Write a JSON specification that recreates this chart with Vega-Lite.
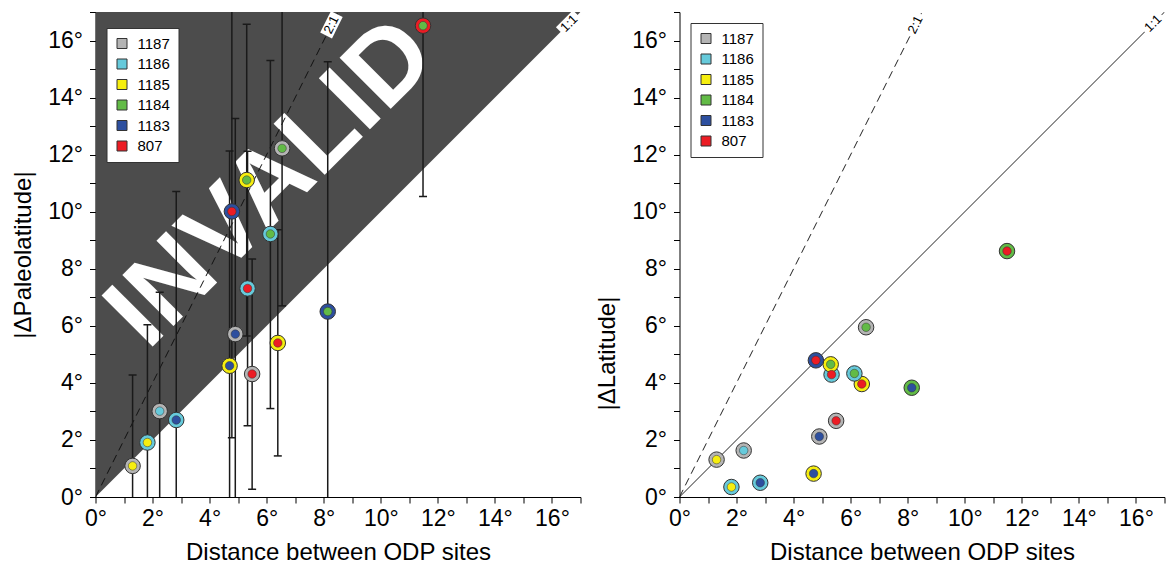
{
"$schema": "https://vega.github.io/schema/vega-lite/v6.json",
"background": "white",
"padding": {"left": 11.5, "top": 0, "right": 0, "bottom": 0},
"bounds": "flush",
"spacing": 99,
"config": {
  "font": "Liberation Sans",
  "view": {"stroke": null},
  "axis": {"grid": false, "domainColor": "#000", "domainWidth": 1, "tickColor": "#000", "tickSize": 6, "tickWidth": 1, "labelFontSize": 23, "labelColor": "#000", "titleFontSize": 24, "titleFontWeight": "normal", "titleColor": "#000", "labelFont": "Liberation Sans", "titleFont": "Liberation Sans", "labelOverlap": false, "labelBound": false, "labelFlush": false},
  "axisX": {"labelPadding": 4, "titlePadding": 10},
  "axisY": {"labelPadding": 7, "titlePadding": 12},
  "legend": {"orient": "none", "symbolType": "square", "symbolSize": 100, "symbolStrokeColor": "#333", "symbolStrokeWidth": 1, "symbolOpacity": 1, "labelFontSize": 15, "labelColor": "#000", "labelFont": "Liberation Sans", "fillColor": "#fff", "strokeColor": "#333", "padding": 8, "rowPadding": 4.5, "labelOffset": 8}
},
"datasets": {
  "pairs": [
    {"o": "1187", "i": "1185", "oR": "1187", "iR": "1185", "d": 1.30, "p": 1.09, "lo": -2.10, "hi": 4.28, "l": 1.31},
    {"o": "1186", "i": "1185", "oR": "1186", "iR": "1185", "d": 1.82, "p": 1.91, "lo": -2.22, "hi": 6.04, "l": 0.35},
    {"o": "1187", "i": "1186", "oR": "1187", "iR": "1186", "d": 2.25, "p": 3.01, "lo": -1.16, "hi": 7.18, "l": 1.63},
    {"o": "1186", "i": "1183", "oR": "1186", "iR": "1183", "d": 2.83, "p": 2.70, "lo": -5.31, "hi": 10.71, "l": 0.50},
    {"o": "1185", "i": "1183", "oR": "1185", "iR": "1183", "d": 4.70, "p": 4.60, "lo": -2.93, "hi": 12.13, "l": 0.82},
    {"o": "1187", "i": "1183", "oR": "1187", "iR": "1183", "d": 4.90, "p": 5.71, "lo": -1.85, "hi": 13.27, "l": 2.12},
    {"o": "1186", "i": "807", "oR": "1186", "iR": "807", "d": 5.33, "p": 7.31, "lo": 2.50, "hi": 12.12, "l": 4.29},
    {"o": "1187", "i": "807", "oR": "1187", "iR": "807", "d": 5.49, "p": 4.31, "lo": 0.27, "hi": 8.34, "l": 2.67},
    {"o": "1185", "i": "807", "oR": "1185", "iR": "807", "d": 6.39, "p": 5.40, "lo": 1.44, "hi": 9.37, "l": 3.96},
    {"o": "1183", "i": "1184", "oR": "1184", "iR": "1183", "d": 8.14, "p": 6.50, "lo": -2.26, "hi": 15.26, "l": 3.83},
    {"o": "807", "i": "1184", "oR": "1184", "iR": "807", "d": 11.48, "p": 16.52, "lo": 10.53, "hi": 22.51, "l": 8.62},
    {"o": "1187", "i": "1184", "oR": "1187", "iR": "1184", "d": 6.54, "p": 12.22, "lo": 6.70, "hi": 17.74, "l": 5.95},
    {"o": "1185", "i": "1184", "oR": "1185", "iR": "1184", "d": 5.30, "p": 11.11, "lo": 5.64, "hi": 16.57, "l": 4.65},
    {"o": "1183", "i": "807", "oR": "1183", "iR": "807", "d": 4.78, "p": 10.01, "lo": 2.08, "hi": 17.94, "l": 4.79},
    {"o": "1186", "i": "1184", "oR": "1186", "iR": "1184", "d": 6.13, "p": 9.22, "lo": 3.10, "hi": 15.30, "l": 4.33}
  ]
},
"hconcat": [
  {
    "width": 485, "height": 485,
    "encoding": {
      "x": {"field": "d", "type": "quantitative", "scale": {"domain": [0, 17], "nice": false, "zero": false}, "axis": {"values": [0,1,2,3,4,5,6,7,8,9,10,11,12,13,14,15,16,17], "labelExpr": "datum.value % 2 === 0 ? datum.value + '°' : ''"}, "title": "Distance between ODP sites"},
      "y": {"field": "p", "type": "quantitative", "scale": {"domain": [0, 17], "nice": false, "zero": false}, "axis": {"values": [0,1,2,3,4,5,6,7,8,9,10,11,12,13,14,15,16,17], "labelExpr": "datum.value % 2 === 0 ? datum.value + '°' : ''"}, "title": "|ΔPaleolatitude|"}
    },
    "layer": [
      {"data": {"values": [{"d": 0, "p": 0}, {"d": 17, "p": 17}]}, "mark": {"type": "area", "orient": "vertical", "color": "#4c4c4c", "opacity": 1, "clip": true}, "encoding": {"y2": {"datum": 17}}},
      {"data": {"values": [{"d": 6.15, "p": 11.0}]}, "mark": {"type": "text", "text": "INVALID", "font": "Liberation Sans", "fontWeight": "bold", "fontSize": 105, "angle": 315, "align": "center", "baseline": "middle", "color": "#ffffff"}},
      {"data": {"values": [{"d": 0, "p": 0}, {"d": 8.5, "p": 17}]}, "mark": {"type": "line", "color": "#111", "strokeWidth": 1, "strokeDash": [8, 5], "clip": true}},
      {"data": {"values": [{"d": 16.6, "p": 16.6}]}, "mark": {"type": "point", "shape": "M-1,-0.55L1,-0.55L1,0.55L-1,0.55Z", "size": 576, "angle": 315, "filled": true, "color": "#ffffff", "opacity": 1, "strokeWidth": 0, "clip": true}},
      {"data": {"values": [{"d": 16.6, "p": 16.6}]}, "mark": {"type": "text", "text": "1:1", "fontSize": 13, "angle": 315, "align": "center", "baseline": "middle", "color": "#000"}},
      {"data": {"name": "pairs"}, "mark": {"type": "rule", "color": "#1a1a1a", "strokeWidth": 1.5, "clip": true}, "encoding": {"y": {"field": "lo", "type": "quantitative", "scale": {"domain": [0, 17], "nice": false, "zero": false}, "axis": {"values": [0,1,2,3,4,5,6,7,8,9,10,11,12,13,14,15,16,17], "labelExpr": "datum.value % 2 === 0 ? datum.value + '°' : ''"}, "title": "|ΔPaleolatitude|"}, "y2": {"field": "hi"}}},
      {"data": {"name": "pairs"}, "mark": {"type": "tick", "orient": "horizontal", "size": 8, "thickness": 1.5, "color": "#1a1a1a", "opacity": 1, "clip": true}, "encoding": {"y": {"field": "lo", "type": "quantitative", "scale": {"domain": [0, 17], "nice": false, "zero": false}, "axis": {"values": [0,1,2,3,4,5,6,7,8,9,10,11,12,13,14,15,16,17], "labelExpr": "datum.value % 2 === 0 ? datum.value + '°' : ''"}, "title": "|ΔPaleolatitude|"}}},
      {"data": {"name": "pairs"}, "mark": {"type": "tick", "orient": "horizontal", "size": 8, "thickness": 1.5, "color": "#1a1a1a", "opacity": 1, "clip": true}, "encoding": {"y": {"field": "hi", "type": "quantitative", "scale": {"domain": [0, 17], "nice": false, "zero": false}, "axis": {"values": [0,1,2,3,4,5,6,7,8,9,10,11,12,13,14,15,16,17], "labelExpr": "datum.value % 2 === 0 ? datum.value + '°' : ''"}, "title": "|ΔPaleolatitude|"}}},
      {"data": {"name": "pairs"}, "mark": {"type": "point", "filled": true, "size": 240, "stroke": "#333", "strokeWidth": 1, "opacity": 1}, "encoding": {"fill": {"field": "o", "type": "nominal", "title": null, "scale": {"domain": ["1187", "1186", "1185", "1184", "1183", "807"], "range": ["#b4b4b4", "#66cadb", "#f6ee0f", "#62bb46", "#2d4f9f", "#ec1c24"]}, "legend": {"legendX": 11, "legendY": 16}}}},
      {"data": {"name": "pairs"}, "mark": {"type": "point", "filled": true, "size": 72, "stroke": "#333", "strokeWidth": 0.5, "opacity": 1}, "encoding": {"fill": {"field": "i", "type": "nominal", "title": null, "scale": {"domain": ["1187", "1186", "1185", "1184", "1183", "807"], "range": ["#b4b4b4", "#66cadb", "#f6ee0f", "#62bb46", "#2d4f9f", "#ec1c24"]}, "legend": null}}},
      {"data": {"values": [{"d": 8.27, "p": 16.55}]}, "mark": {"type": "point", "shape": "M-1,-0.55L1,-0.55L1,0.55L-1,0.55Z", "size": 576, "angle": 296.57, "filled": true, "color": "#ffffff", "opacity": 1, "strokeWidth": 0, "clip": true}},
      {"data": {"values": [{"d": 8.27, "p": 16.55}]}, "mark": {"type": "text", "text": "2:1", "fontSize": 13, "angle": 296.57, "align": "center", "baseline": "middle", "color": "#000"}}
    ]
  },
  {
    "width": 485, "height": 485,
    "encoding": {
      "x": {"field": "d", "type": "quantitative", "scale": {"domain": [0, 17], "nice": false, "zero": false}, "axis": {"values": [0,1,2,3,4,5,6,7,8,9,10,11,12,13,14,15,16,17], "labelExpr": "datum.value % 2 === 0 ? datum.value + '°' : ''"}, "title": "Distance between ODP sites"},
      "y": {"field": "l", "type": "quantitative", "scale": {"domain": [0, 17], "nice": false, "zero": false}, "axis": {"values": [0,1,2,3,4,5,6,7,8,9,10,11,12,13,14,15,16,17], "labelExpr": "datum.value % 2 === 0 ? datum.value + '°' : ''", "titleY": 341}, "title": "|ΔLatitude|"}
    },
    "layer": [
      {"data": {"values": [{"d": 0, "l": 0}, {"d": 17, "l": 17}]}, "mark": {"type": "line", "color": "#222", "strokeWidth": 1, "clip": true}},
      {"data": {"values": [{"d": 0, "l": 0}, {"d": 8.5, "l": 17}]}, "mark": {"type": "line", "color": "#222", "strokeWidth": 1, "strokeDash": [8, 5], "clip": true}},
      {"data": {"values": [{"d": 8.27, "l": 16.55}]}, "mark": {"type": "point", "shape": "M-1,-0.55L1,-0.55L1,0.55L-1,0.55Z", "size": 576, "angle": 296.57, "filled": true, "color": "#ffffff", "opacity": 1, "strokeWidth": 0, "clip": true}},
      {"data": {"values": [{"d": 8.27, "l": 16.55}]}, "mark": {"type": "text", "text": "2:1", "fontSize": 13, "angle": 296.57, "align": "center", "baseline": "middle", "color": "#000"}},
      {"data": {"values": [{"d": 16.6, "l": 16.6}]}, "mark": {"type": "point", "shape": "M-1,-0.55L1,-0.55L1,0.55L-1,0.55Z", "size": 576, "angle": 315, "filled": true, "color": "#ffffff", "opacity": 1, "strokeWidth": 0, "clip": true}},
      {"data": {"values": [{"d": 16.6, "l": 16.6}]}, "mark": {"type": "text", "text": "1:1", "fontSize": 13, "angle": 315, "align": "center", "baseline": "middle", "color": "#000"}},
      {"data": {"name": "pairs"}, "mark": {"type": "point", "filled": true, "size": 240, "stroke": "#333", "strokeWidth": 1, "opacity": 1}, "encoding": {"fill": {"field": "oR", "type": "nominal", "title": null, "scale": {"domain": ["1187", "1186", "1185", "1184", "1183", "807"], "range": ["#b4b4b4", "#66cadb", "#f6ee0f", "#62bb46", "#2d4f9f", "#ec1c24"]}, "legend": {"legendX": 11, "legendY": 11}}}},
      {"data": {"name": "pairs"}, "mark": {"type": "point", "filled": true, "size": 72, "stroke": "#333", "strokeWidth": 0.5, "opacity": 1}, "encoding": {"fill": {"field": "iR", "type": "nominal", "title": null, "scale": {"domain": ["1187", "1186", "1185", "1184", "1183", "807"], "range": ["#b4b4b4", "#66cadb", "#f6ee0f", "#62bb46", "#2d4f9f", "#ec1c24"]}, "legend": null}}}
    ]
  }
],
"resolve": {"scale": {"fill": "independent"}, "legend": {"fill": "independent"}}
}
